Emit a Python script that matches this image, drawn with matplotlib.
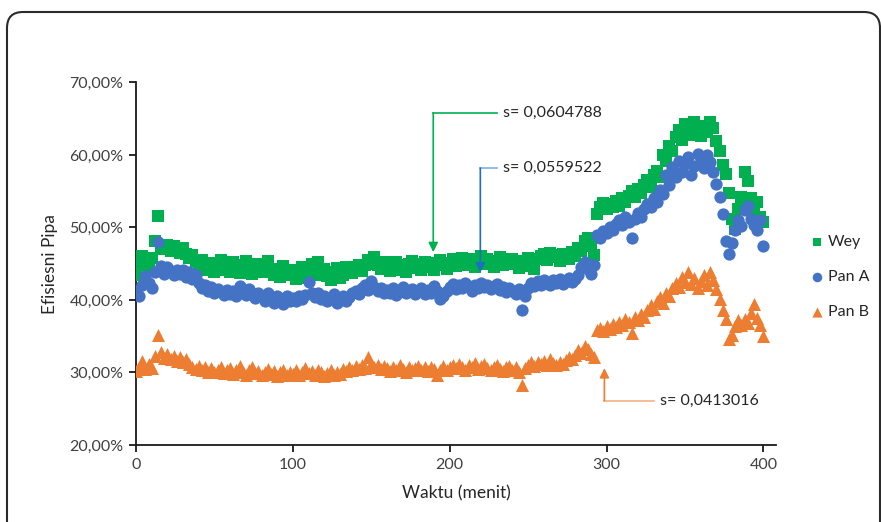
import numpy as np
import matplotlib
matplotlib.use('Agg')
import matplotlib.pyplot as plt
from matplotlib.patches import FancyBboxPatch
from matplotlib.ticker import FuncFormatter

plt.rcParams['font.family'] = ['Lato', 'DejaVu Sans']

# time in minutes (every 2 minutes)
waktu = np.arange(0, 401, 2)

wey = [
    43.5, 44.8, 46.0, 45.2, 44.3, 45.8, 48.1, 51.6, 47.0, 47.2,
    47.6, 46.8, 47.4, 47.0, 46.5, 47.2, 46.3, 45.8, 46.2, 45.4,
    44.8, 45.5, 44.3, 44.2, 45.1, 43.9, 44.6, 45.5, 44.1, 44.8,
    43.8, 45.2, 44.2, 43.7, 44.8, 45.4, 44.0, 43.6, 44.5, 45.0,
    43.9, 44.4, 45.4, 43.8, 43.5, 44.3, 43.2, 44.7, 43.7, 43.4,
    44.2, 42.9, 43.6, 44.5, 43.1, 43.8, 44.9, 43.4, 45.2, 43.6,
    44.3, 43.3, 42.8, 43.9, 44.4, 43.0, 43.5, 44.6, 43.9, 43.7,
    44.5, 44.8, 44.0, 44.8, 45.5, 44.9, 45.9, 44.8, 44.3, 45.2,
    44.5, 44.0, 44.9, 45.3, 44.2, 44.8, 43.9, 45.0, 45.4, 44.4,
    44.9, 44.2, 45.2, 44.5, 45.1, 44.1, 44.8, 45.5, 44.8, 44.3,
    45.1, 45.6, 44.7, 45.4, 45.8, 44.8, 45.7, 45.0, 44.6, 45.5,
    46.0, 44.9, 45.6, 45.1, 44.5, 45.4, 45.9, 44.8, 45.5, 44.9,
    45.7, 45.0, 44.4, 45.4, 44.7, 45.8, 45.0, 44.3, 45.6, 46.0,
    46.3, 45.5, 46.5, 45.9, 46.2, 45.4, 46.4, 45.8, 45.6, 46.6,
    46.0, 47.2, 46.8, 48.1, 48.6, 47.5, 46.2, 51.8, 52.8, 53.4,
    52.6, 53.3, 52.8, 53.6, 53.0, 54.1, 53.5, 54.4, 55.0, 54.2,
    55.3, 54.8, 55.9, 56.5, 55.6, 57.2, 57.8, 56.9, 60.0, 59.2,
    61.3, 60.5, 62.5, 63.4, 62.0, 64.3, 63.6, 62.8, 64.6, 63.9,
    62.6, 64.0, 63.2, 64.5, 63.7, 61.9, 60.5, 58.6, 57.4, 54.8,
    51.2, 49.8, 52.6, 54.2, 57.6, 56.4, 54.0, 52.4, 53.5, 51.4,
    50.8,
]

pan_a = [
    41.2, 40.6, 42.0, 43.3, 42.4, 41.6, 43.9, 48.0, 44.7, 43.6,
    44.5, 44.0, 43.4, 44.2, 43.6, 44.1, 43.2, 43.8, 42.9, 43.4,
    42.3, 41.6, 42.0, 41.2, 41.8, 40.9, 41.5, 41.1, 40.7, 41.4,
    40.8, 41.3, 40.6, 41.9, 41.2, 40.7, 41.5, 40.9, 40.3, 41.0,
    40.4, 39.8, 40.9, 40.2, 39.6, 40.5, 40.0, 39.4, 40.6, 39.9,
    40.3, 39.8, 40.5, 40.1, 40.7, 42.5, 41.0, 40.4, 40.9, 40.2,
    40.6, 39.9, 40.3, 40.8, 39.6, 40.2, 40.5, 39.8, 40.4, 41.0,
    41.3, 40.8, 41.6, 42.0, 41.4, 42.6, 41.8, 41.2, 41.7, 40.9,
    41.4, 41.0, 41.6, 40.7, 41.3, 41.8, 40.9, 41.2, 41.5, 40.8,
    41.3, 41.7, 40.8, 41.4, 41.0, 41.9, 41.2, 40.1, 40.6, 41.3,
    41.8, 42.2, 41.5, 42.0, 41.6, 42.3, 41.9, 41.3, 42.1, 41.7,
    42.4, 41.8, 42.1, 41.5, 41.9, 42.2, 41.4, 41.8, 41.1, 41.6,
    41.2, 40.8, 41.5, 38.6, 40.6, 41.7, 42.3, 41.9, 42.6, 42.1,
    42.8, 42.3, 42.0, 42.7, 42.4, 42.9, 42.2, 42.6, 43.0, 42.5,
    42.9, 43.4, 44.6, 45.2, 44.3, 43.6, 44.8, 49.0, 48.6, 49.5,
    49.2, 50.0, 49.6, 50.5, 51.0, 50.3, 51.4, 50.8, 48.6, 51.2,
    52.0, 51.5, 52.6, 53.3, 52.8, 54.0, 53.5, 55.2, 54.6, 57.2,
    55.8, 58.4, 56.9, 59.2, 57.6, 58.8, 59.7, 57.3, 58.5, 60.1,
    59.4, 58.2, 60.0, 59.1, 57.6, 56.0, 54.2, 51.8, 48.2, 46.3,
    47.8, 49.6, 51.0, 50.2, 52.4, 53.0, 51.2, 50.4, 49.6, 51.0,
    47.5,
]

pan_b = [
    30.2, 30.8, 31.6, 30.5, 31.2, 30.6, 32.3, 35.2, 32.8, 32.0,
    32.5, 31.8, 32.3, 31.6, 32.1, 31.4, 31.9, 31.2, 30.8, 30.5,
    30.9, 30.3, 30.7, 30.1, 30.6, 30.0, 30.4, 30.8, 29.9, 30.3,
    30.6, 29.8, 30.4, 30.9, 30.1, 29.7, 30.3, 30.7, 29.9, 30.2,
    29.6, 30.1, 30.5, 29.8, 30.2, 29.5, 30.0, 30.4, 29.7, 30.1,
    29.8, 30.3, 29.6, 30.0, 30.6, 29.9, 30.2, 29.7, 30.4, 30.0,
    29.5, 29.9, 30.3, 29.6, 30.1, 29.8, 30.5, 30.2, 30.7, 30.4,
    30.9, 30.5, 31.0, 30.6, 32.1, 31.2, 30.8, 31.1, 30.5, 30.9,
    30.6, 30.2, 30.8, 30.4, 31.0, 30.5, 30.1, 30.7, 30.3, 30.6,
    30.9, 30.4, 30.7, 30.2, 30.8, 30.5, 29.6, 30.3, 30.9, 30.4,
    30.7, 31.1, 30.6, 31.2, 30.8, 30.4, 31.0, 30.7, 31.3, 30.5,
    30.9, 31.2, 30.6, 30.3, 30.8, 31.1, 30.5, 30.2, 30.7, 30.9,
    30.4, 30.8, 30.1, 28.3, 30.6, 31.0, 31.4, 30.9, 31.5, 31.2,
    31.6, 31.1, 31.8, 31.3, 31.0, 31.5, 31.2, 31.7, 32.2, 31.8,
    32.4, 33.1, 32.7, 33.6, 33.2, 32.6, 32.2, 35.8, 36.2, 35.7,
    36.4, 36.0, 36.7, 36.3, 37.0, 36.5, 37.4, 36.9, 35.4, 37.6,
    37.2, 38.1, 37.7, 38.6, 39.3, 38.8, 39.8, 40.4, 39.6, 41.0,
    40.5, 41.6, 42.4, 41.8, 43.2, 42.5, 43.8, 42.2, 43.0, 41.7,
    42.6, 43.4, 42.0, 43.9, 42.8, 41.5, 40.2, 38.6, 37.4, 34.6,
    35.2, 36.4, 37.2, 36.6, 37.4, 36.8, 38.2, 39.4, 37.5, 36.6,
    35.0,
]

# callouts: (label, x tip, y tip, y elbow, x text, line colour, head colour)
callouts = [
    ('s= 0,0604788', 189.5, 46.6, 65.8, 234, '#00B050', '#00B050'),
    ('s= 0,0559522', 219.5, 43.8, 58.2, 234, '#7FB0D8', '#1F6FC0'),
    ('s= 0,0413016', 298.6, 30.6, 26.1, 334, '#F4B183', '#ED7D31'),
]

fig = plt.figure(figsize=(8.81, 5.22), dpi=100)
ax = fig.add_axes([0.1544, 0.1475, 0.7264, 0.6945])

ax.scatter(waktu, wey, marker='s', s=66, color='#00B050', linewidths=0, label='Wey', zorder=3)
ax.scatter(waktu, pan_a, marker='o', s=78, color='#4472C4', linewidths=0, label='Pan A', zorder=4)
ax.scatter(waktu, pan_b, marker='^', s=88, color='#ED7D31', linewidths=0, label='Pan B', zorder=5)

for label, xt, yt, ye, xtext, lc, hc in callouts:
    ax.plot([xt, xtext - 4], [ye, ye], color=lc, lw=1.2, zorder=6)
    ax.annotate('', xy=(xt, yt), xytext=(xt, ye),
                arrowprops=dict(arrowstyle='-|>', color=lc, lw=1.2, mutation_scale=14,
                                shrinkA=0, shrinkB=0, fc=hc, ec=hc), zorder=6)
    ax.text(xtext, ye, label, fontsize=11.5, va='center', ha='left', color='#262626', zorder=7)

ax.set_xlim(0, 408)
ax.set_ylim(20, 70)
ax.set_xticks([0, 100, 200, 300, 400])
ax.set_yticks([20, 30, 40, 50, 60, 70])
ax.yaxis.set_major_formatter(FuncFormatter(lambda v, p: f'{v:.2f}%'.replace('.', ',')))

for side in ['top', 'right']:
    ax.spines[side].set_visible(False)
for side in ['left', 'bottom']:
    ax.spines[side].set_color('#1a1a1a')
    ax.spines[side].set_linewidth(1.3)
ax.tick_params(direction='out', length=5, width=1.3, color='#1a1a1a',
               labelsize=11.5, labelcolor='#404040', pad=4)

ax.set_xlabel('Waktu (menit)', fontsize=12.5, color='#262626', labelpad=10)
ax.set_ylabel('Efisiesni Pipa', fontsize=12.5, color='#262626', labelpad=8)

leg = fig.legend(loc='upper left', bbox_to_anchor=(0.9, 0.578), frameon=False,
                 fontsize=11.5, handletextpad=0.1, labelspacing=1.3,
                 markerscale=0.78, handlelength=1.2)
for t in leg.get_texts():
    t.set_color('#262626')

# rounded outer border
border = FancyBboxPatch((7, -30), 873, 540, boxstyle='round,pad=0,rounding_size=16',
                        transform=None, fill=False, ec='#2b2b2b', lw=1.5, zorder=0)
fig.patches.append(border)

fig.savefig('out.png', dpi=100)
